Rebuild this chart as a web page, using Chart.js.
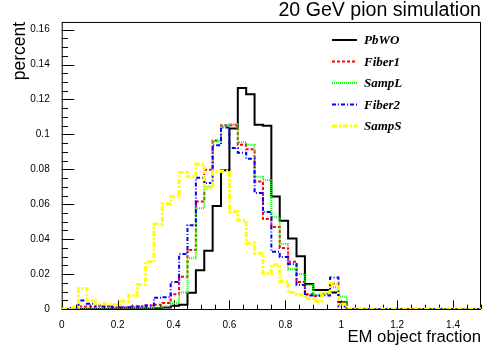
<!DOCTYPE html>
<html>
<head>
<meta charset="utf-8">
<script src="https://cdn.jsdelivr.net/npm/chart.js@4/dist/chart.umd.min.js"></script>
<style>
  body { margin: 0; background: #fff; }
  canvas { display: block; }
</style>
</head>
<body>
<canvas id="c" width="483" height="352"></canvas>
<script>
// histogram bins: 0.03 wide, starting at 0 (bins above 1.05 are empty)
var binWidth = 0.03;
var xMax = 1.5;
var yMax = 0.1644;

var pbwo   = [0, 0, 0, 0, 0, 0, 0, 0.0003, 0, 0.0003, 0.0003, 0.0005, 0.0008, 0.0018, 0.0025, 0.0093, 0.0222, 0.0333,
              0.059, 0.0795, 0.1034, 0.1266, 0.123, 0.1055, 0.105, 0.0644, 0.0505, 0.0404, 0.0302, 0.0143, 0.0109, 0.0109, 0.0095, 0.0038, 0];
var fiber1 = [0, 0.0005, 0.0015, 0.0015, 0.002, 0.0015, 0.001, 0.001, 0.0015, 0.0015, 0.002, 0.0025, 0.0035, 0.0085, 0.0185, 0.0338, 0.0615, 0.0797,
              0.0965, 0.1052, 0.1052, 0.094, 0.0915, 0.073, 0.0515, 0.047, 0.035, 0.027, 0.0155, 0.0085, 0.0075, 0.0088, 0.0145, 0.003, 0];
var sampL  = [0, 0.0003, 0.0005, 0.0005, 0.0005, 0.0005, 0.0005, 0.0005, 0.0005, 0.0005, 0.0005, 0.0008, 0.0015, 0.0033, 0.0095, 0.029, 0.0577, 0.07,
              0.096, 0.105, 0.1058, 0.0955, 0.094, 0.0757, 0.0738, 0.0527, 0.0372, 0.0228, 0.02, 0.0138, 0.0082, 0.0088, 0.0125, 0.0072, 0];
var fiber2 = [0, 0.0005, 0.0048, 0.003, 0.0015, 0.0015, 0.001, 0.001, 0.001, 0.0015, 0.002, 0.0065, 0.0068, 0.0155, 0.0315, 0.048, 0.0752, 0.0722,
              0.0938, 0.104, 0.0922, 0.0895, 0.086, 0.0665, 0.0555, 0.0328, 0.0298, 0.0258, 0.0138, 0.0078, 0.0078, 0.0078, 0.018, 0.0015, 0];
var sampS  = [0, 0.001, 0.0118, 0.005, 0.0028, 0.0028, 0.0025, 0.0045, 0.0078, 0.014, 0.027, 0.0485, 0.0603, 0.0643, 0.0782, 0.0757, 0.0831, 0.0692,
              0.0788, 0.079, 0.0557, 0.0508, 0.0377, 0.032, 0.0204, 0.0252, 0.0158, 0.0094, 0.0082, 0.006, 0.0045, 0.0093, 0.0148, 0.0028, 0];

var names = ['PbWO', 'Fiber1', 'SampL', 'Fiber2', 'SampS'];
var series = [pbwo, fiber1, sampL, fiber2, sampS];
var colors = ['#000000', '#ff0000', '#00ff00', '#0000ff', '#ffff00'];
var dashes = [[], [3, 2], [1, 1], [4, 2, 1, 2], [5, 2, 2, 2]];
var widths = [2, 2, 2, 2, 3];

var toPoints = function (vals) {
    var pts = [];
    for (var i = 0; i < vals.length; i++) {
        pts.push({ x: i * binWidth, y: vals[i] });
    }
    pts.push({ x: xMax, y: 0 });
    return pts;
};

var fmt = function (v) { return String(+v.toFixed(3)); };

// ROOT-like frame with ticks inside, plus the legend
var rootStyle = {
    id: 'rootStyle',
    beforeDatasetsDraw: function (chart) {
        var ctx = chart.ctx, a = chart.chartArea;
        var sx = chart.scales.x, sy = chart.scales.y;
        ctx.save();
        ctx.strokeStyle = '#000';
        ctx.lineWidth = 1;
        ctx.strokeRect(a.left + 0.5, a.top + 0.5, a.right - a.left - 1, a.bottom - a.top);
        ctx.beginPath();
        for (var i = 0; i <= 30; i++) {
            var xv = i * 0.05;
            var px = Math.round(sx.getPixelForValue(xv)) + 0.5;
            var len = (i % 4 === 0) ? 8.6 : 4.3;
            ctx.moveTo(px, a.bottom);
            ctx.lineTo(px, a.bottom - len);
        }
        for (var j = 0; j * 0.005 <= yMax; j++) {
            var py = Math.round(sy.getPixelForValue(j * 0.005)) + 0.5;
            var l2 = (j % 4 === 0) ? 12.6 : 6.3;
            ctx.moveTo(a.left, py);
            ctx.lineTo(a.left + l2, py);
        }
        ctx.stroke();
        ctx.restore();
    },
    afterDraw: function (chart) {
        var ctx = chart.ctx;
        ctx.save();
        for (var i = 0; i < names.length; i++) {
            var y = 40 + i * 21.5;
            ctx.beginPath();
            ctx.strokeStyle = colors[i];
            ctx.lineWidth = widths[i];
            ctx.setLineDash(dashes[i]);
            ctx.moveTo(332, y);
            ctx.lineTo(357, y);
            ctx.stroke();
            ctx.setLineDash([]);
            ctx.fillStyle = '#000';
            ctx.font = 'italic bold 13px "Liberation Serif"';
            ctx.textBaseline = 'middle';
            ctx.fillText(names[i], 364, y + 1);
        }
        ctx.restore();
    }
};

var datasets = [];
for (var k = 0; k < names.length; k++) {
    datasets.push({
        label: names[k],
        data: toPoints(series[k]),
        borderColor: colors[k],
        borderWidth: widths[k],
        borderDash: dashes[k],
        stepped: true,
        pointRadius: 0,
        fill: false,
        order: names.length - k
    });
}

new Chart(document.getElementById('c'), {
    type: 'line',
    data: { datasets: datasets },
    plugins: [rootStyle],
    options: {
        responsive: false,
        animation: false,
        layout: { padding: { top: 0, right: 2, left: 0, bottom: 0 } },
        plugins: {
            legend: { display: false },
            tooltip: { enabled: false },
            title: {
                display: true,
                text: '20 GeV pion simulation',
                align: 'end',
                color: '#000',
                padding: 0,
                font: { family: 'Liberation Sans', size: 19.6, weight: 'normal', lineHeight: 1.12 }
            }
        },
        scales: {
            x: {
                type: 'linear',
                min: 0,
                max: xMax,
                grid: { display: false },
                border: { display: false },
                ticks: { stepSize: 0.2, includeBounds: false, padding: 2, color: '#000',
                         font: { family: 'Liberation Sans', size: 10 }, callback: fmt, maxRotation: 0 },
                title: { display: true, text: 'EM object fraction', align: 'end', color: '#000',
                         padding: { top: 0, bottom: 5 }, font: { family: 'Liberation Sans', size: 16.7 } },
                afterFit: function (s) { s.height = 43; }
            },
            y: {
                min: 0,
                max: yMax,
                grid: { display: false },
                border: { display: false },
                ticks: { stepSize: 0.02, includeBounds: false, padding: 4, color: '#000',
                         font: { family: 'Liberation Sans', size: 10 }, callback: fmt },
                title: { display: true, text: 'percent', align: 'end', color: '#000',
                         padding: { top: 10, bottom: 0 }, font: { family: 'Liberation Sans', size: 17.5 } },
                afterFit: function (s) { s.width = 61.7; }
            }
        }
    }
});
</script>
</body>
</html>
